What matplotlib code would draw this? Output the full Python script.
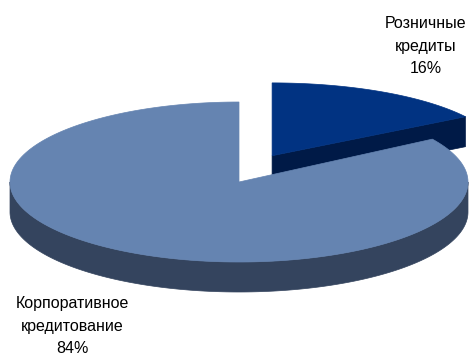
"""
3D-style pie chart: loan portfolio structure (retail vs corporate).
"""

import numpy as np
import matplotlib.pyplot as plt
from matplotlib.patches import Polygon

labels = ['Розничные\nкредиты', 'Корпоративное\nкредитование']
shares = [16, 84]
top_colors = ['#013382', '#6584B1']
side_colors = ['#001A47', '#34445E']
explode = [0.3, 0.0]

plt.rcParams['font.family'] = ['Liberation Sans Narrow', 'Liberation Sans', 'DejaVu Sans']


def arc(cx, cy, rx, ry, t1, t2, n=200):
    t = np.radians(np.linspace(t1, t2, n))
    return np.column_stack([cx + rx * np.cos(t), cy - ry * np.sin(t)])


def draw_pie3d(ax, cx, cy, rx, ry, depth):
    # slices go clockwise from 12 o'clock
    total = sum(shares)
    start = 90.0
    slices = []
    for i, v in enumerate(shares):
        sweep = 360.0 * v / total
        t2, t1 = start, start - sweep
        mid = np.radians((t1 + t2) / 2)
        ox = cx + explode[i] * rx * np.cos(mid)
        oy = cy - explode[i] * ry * np.sin(mid) * 1.25
        # exploded slice sits further back, so it looks a bit flatter
        sry = ry * (1 - 0.3 * explode[i])
        slices.append((i, t1, t2, ox, oy, sry))
        start = t1

    for i, t1, t2, ox, oy, sry in slices:
        col_top, col_side = top_colors[i], side_colors[i]
        # front radial face at the clockwise edge
        if np.sin(np.radians(t1 - 90)) < 0:
            p = arc(ox, oy, rx, sry, t1, t1, 2)[0]
            face = [(ox, oy), tuple(p), (p[0], p[1] + depth), (ox, oy + depth)]
            ax.add_patch(Polygon(face, closed=True, fc=col_side, ec=col_side, lw=0.5))
        # outer wall, only the front half (180..360)
        for k in range(-1, 2):
            a = max(t1, 180 + 360 * k)
            b = min(t2, 360 + 360 * k)
            if b > a:
                top = arc(ox, oy, rx, sry, a, b)
                bot = top[::-1] + np.array([0, depth])
                ax.add_patch(Polygon(np.vstack([top, bot]), closed=True,
                                     fc=col_side, ec=col_side, lw=0.5))
        # top face
        pts = np.vstack([[ox, oy], arc(ox, oy, rx, sry, t1, t2)])
        ax.add_patch(Polygon(pts, closed=True, fc=col_top, ec=col_top, lw=0.5))


fig = plt.figure(figsize=(4.69, 3.56), dpi=100)
ax = fig.add_axes([0, 0, 1, 1])
ax.set_xlim(0, 469)
ax.set_ylim(356, 0)
ax.axis('off')

draw_pie3d(ax, cx=239, cy=182, rx=229, ry=80, depth=30)

ax.text(426, 46, f'{labels[0]}\n{shares[0]}%', ha='center', va='center',
        fontsize=11.5, linespacing=1.6, color='black')
ax.text(72, 326, f'{labels[1]}\n{shares[1]}%', ha='center', va='center',
        fontsize=11.5, linespacing=1.6, color='black')

fig.savefig('out.png', dpi=100)
